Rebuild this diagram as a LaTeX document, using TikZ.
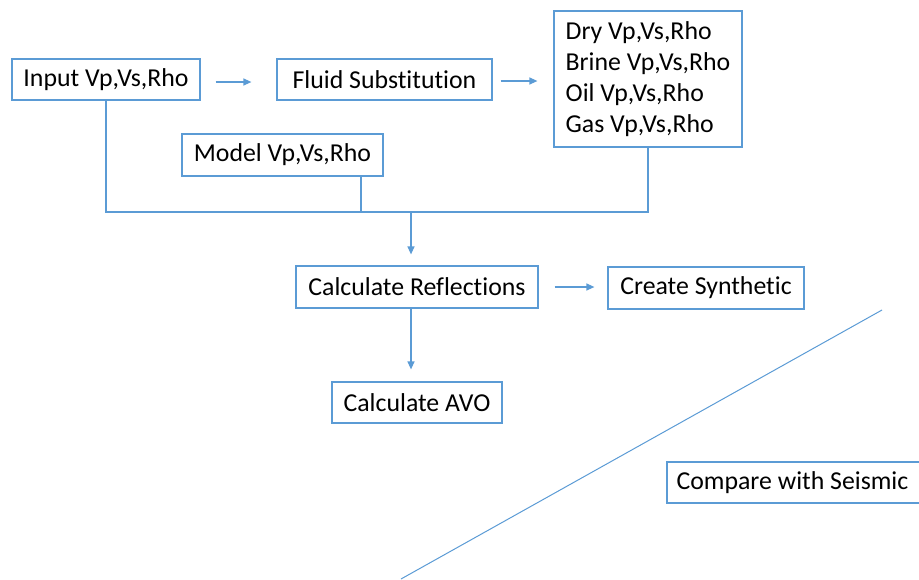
\documentclass[tikz,border=0pt]{standalone}
\usepackage{fontspec}
\setmainfont[Ligatures=NoCommon]{Carlito}
\usetikzlibrary{arrows.meta,calc}
\definecolor{lineblue}{RGB}{91,155,213}
\begin{document}
\begin{tikzpicture}[x=1pt,y=-1pt,
  box/.style={draw=lineblue,line width=1.2pt,inner sep=0pt,font=\fontsize{25.8}{31}\selectfont,text=black},
  conn/.style={draw=lineblue,line width=1.2pt},
  arr/.style={conn,-{Triangle[length=8pt,width=7pt]}}]
\useasboundingbox (0,0) rectangle (919,579);
\node[box,minimum width=188pt,minimum height=41pt] (in) at (106,79.5) {Input Vp,Vs,Rho};
\node[box,minimum width=215pt,minimum height=41pt] (fs) at (384.5,79.5) {Fluid Substitution};
\node[box,minimum width=188pt,minimum height=136pt,align=left] (dry) at (648,79) {Dry Vp,Vs,Rho\\Brine Vp,Vs,Rho\\Oil Vp,Vs,Rho\\Gas Vp,Vs,Rho};
\node[box,minimum width=201pt,minimum height=42pt] (model) at (282.5,155) {Model Vp,Vs,Rho};
\node[box,minimum width=242pt,minimum height=42pt] (cr) at (417,287) {Calculate Reflections};
\node[box,minimum width=196pt,minimum height=42pt] (cs) at (706,288) {Create Synthetic};
\node[box,minimum width=170pt,minimum height=41pt] (avo) at (417,402.5) {Calculate AVO};
\node[box,minimum width=254pt,minimum height=41pt] (cmp) at (794,482.5) {\hspace*{-3pt}Compare with Seismic};
\coordinate (bus) at (411,212);
\coordinate (mb) at (361,212);
\coordinate (dA) at (882,310);
\coordinate (dB) at (401,579);
\draw[arr,shorten <=15pt,shorten >=25pt] ([yshift=-2.5pt]in.east) -- ([yshift=-2.5pt]fs.west);
\draw[arr,shorten <=8pt,shorten >=16pt] ([yshift=-1.5pt]fs.east) -- ([yshift=-1.5pt]fs.east -| dry.west);
\draw[conn] (in.south) |- (bus) -| (dry.south);
\draw[conn] (mb |- model.south) -- (mb);
\draw[arr,shorten >=11pt] (bus) -- (bus |- cr.north);
\draw[arr,shorten <=16pt,shorten >=13pt] (cr.east) -- (cr.east -| cs.west);
\draw[arr,shorten >=12pt] (bus |- cr.south) -- (bus |- avo.north);
\draw[conn,line width=1pt] (dA) -- (dB);
\end{tikzpicture}
\end{document}
